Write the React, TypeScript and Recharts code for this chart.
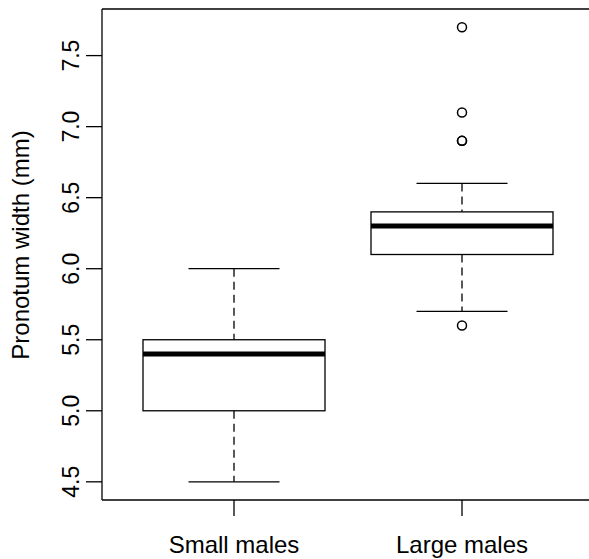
import { ComposedChart, Bar, Scatter, XAxis, YAxis, ReferenceLine } from "recharts";

const FONT = "'Liberation Sans', Arial, Helvetica, sans-serif";

// groups on the x axis
const groups = ["Small males", "Large males"];

// five-number summaries (whisker low, Q1, median, Q3, whisker high)
const whiskerLow = [4.5, 5.7];
const q1 = [5.0, 6.1];
const median = [5.4, 6.3];
const q3 = [5.5, 6.4];
const whiskerHigh = [6.0, 6.6];

// outlying points (6.9 appears twice, hence the heavier ring)
const outlierGroup = ["Large males", "Large males", "Large males", "Large males", "Large males"];
const outlierValue = [5.6, 6.9, 6.9, 7.1, 7.7];

const yTicks = [4.5, 5.0, 5.5, 6.0, 6.5, 7.0, 7.5];
const yDomain: [number, number] = [4.372, 7.828];

const boxes = groups.map((name, i) => ({
  name,
  lo: whiskerLow[i],
  q1: q1[i],
  med: median[i],
  q3: q3[i],
  hi: whiskerHigh[i],
}));

const outliers = outlierValue.map((v, i) => ({ name: outlierGroup[i], value: v }));

function BoxShape(props: any) {
  const { x, y, width, height, payload } = props;
  const top = Math.min(y, y + height);
  const bottom = Math.max(y, y + height);
  const { lo, hi } = payload;
  const pix = (v: number) => bottom - ((v - lo) / (hi - lo)) * (bottom - top);
  const cx = x + width / 2;
  const capHalf = width / 4;
  const yQ1 = pix(payload.q1);
  const yQ3 = pix(payload.q3);
  const yMed = pix(payload.med);
  return (
    <g>
      <line x1={cx} x2={cx} y1={top} y2={yQ3} stroke="#000" strokeWidth={1.3} strokeDasharray="8 5" />
      <line x1={cx} x2={cx} y1={yQ1} y2={bottom} stroke="#000" strokeWidth={1.3} strokeDasharray="8 5" />
      <line x1={cx - capHalf} x2={cx + capHalf} y1={top} y2={top} stroke="#000" strokeWidth={1.3} />
      <line x1={cx - capHalf} x2={cx + capHalf} y1={bottom} y2={bottom} stroke="#000" strokeWidth={1.3} />
      <rect x={x} y={yQ3} width={width} height={yQ1 - yQ3} fill="#fff" stroke="#000" strokeWidth={1.3} />
      <line x1={x} x2={x + width} y1={yMed} y2={yMed} stroke="#000" strokeWidth={5} />
    </g>
  );
}

function Ring(props: any) {
  const { cx, cy } = props;
  return <circle cx={cx} cy={cy} r={4.5} fill="none" stroke="#000" strokeWidth={1.5} />;
}

function YTick(props: any) {
  const { y, payload } = props;
  return (
    <text
      transform={`translate(79, ${y}) rotate(-90)`}
      textAnchor="middle"
      fontFamily={FONT}
      fontSize={23}
      fill="#000"
    >
      {payload.value.toFixed(1)}
    </text>
  );
}

function XTick(props: any) {
  const { x, y, payload } = props;
  return (
    <text x={x} y={y + 35} textAnchor="middle" fontFamily={FONT} fontSize={24} fill="#000">
      {payload.value}
    </text>
  );
}

function YTitle() {
  return (
    <text
      transform="translate(29, 245) rotate(-90)"
      textAnchor="middle"
      fontFamily={FONT}
      fontSize={24}
      fill="#000"
    >
      Pronotum width (mm)
    </text>
  );
}

export default function App() {
  return (
    <div style={{ position: "absolute", left: 0, top: 0, width: 589, height: 559, overflow: "hidden", background: "#fff" }}>
      <ComposedChart width={600} height={559} data={boxes} margin={{ top: 9, right: 6, bottom: 0, left: 0 }}>
        <XAxis
          dataKey="name"
          type="category"
          allowDuplicatedCategory={false}
          padding={{ left: 18, right: 18 }}
          height={59}
          tickSize={16}
          tickMargin={2}
          axisLine={{ stroke: "#000", strokeWidth: 1.3 }}
          tickLine={{ stroke: "#000", strokeWidth: 1.3 }}
          tick={<XTick />}
          interval={0}
        />
        <YAxis
          type="number"
          domain={yDomain}
          ticks={yTicks}
          allowDataOverflow
          width={102}
          tickSize={16}
          axisLine={{ stroke: "#000", strokeWidth: 1.3 }}
          tickLine={{ stroke: "#000", strokeWidth: 1.3 }}
          tick={<YTick />}
          label={{ content: () => <YTitle /> }}
        />
        <ReferenceLine y={yDomain[1]} stroke="#000" strokeWidth={1.3} ifOverflow="extendDomain" />
        <Bar
          dataKey={(d: any) => [d.lo, d.hi]}
          barSize={182}
          shape={<BoxShape />}
          isAnimationActive={false}
        />
        <Scatter data={outliers} dataKey="value" shape={<Ring />} isAnimationActive={false} />
      </ComposedChart>
    </div>
  );
}
